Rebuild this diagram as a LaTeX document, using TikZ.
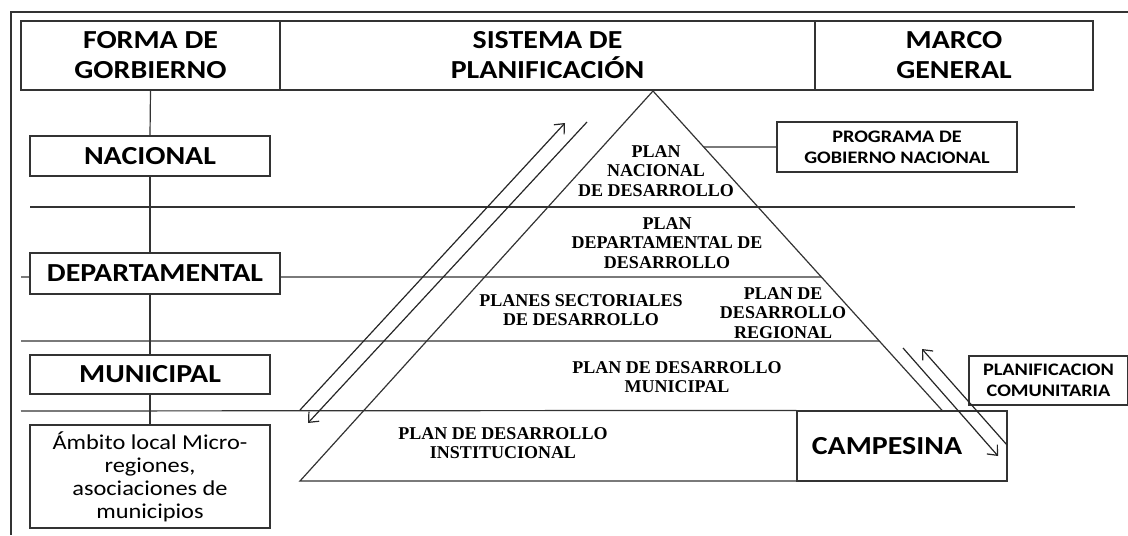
\documentclass[tikz,border=0pt]{standalone}
\usepackage{fontspec}
\setmainfont{Liberation Serif}
\setsansfont{Carlito}[FakeStretch=1.15]
\usetikzlibrary{arrows.meta, calc, positioning}

\tikzset{
  sep/.style={black!80, line width=0.6pt},
  hdbox/.style={draw=black!80, line width=0.6pt, fill=white, align=center, inner sep=0pt,
    font=\sffamily\bfseries\fontsize{13}{15}\selectfont},
  lvlbox/.style={hdbox},
  smallbox/.style={draw=black!80, line width=0.6pt, fill=white, align=center, inner sep=0pt,
    font=\sffamily\bfseries\fontsize{8.8}{10.3}\selectfont},
  plantext/.style={align=center, font=\bfseries\fontsize{9}{9.8}\selectfont},
  flow/.style={black!85, line width=0.6pt, -{Straight Barb[length=4pt,width=7pt]}},
}

\begin{document}
\begin{tikzpicture}[x=0.5pt, y=-0.5pt]
\useasboundingbox (0,0) rectangle (1128,535);

% outer frame
\draw[sep] (1128,12) -- (11,12) -- (11,535);

% headers
\node[hdbox, minimum width=129.5pt, minimum height=34.5pt] (forma) at (150.5,55.5) {FORMA DE\\GORBIERNO};
\node[hdbox, minimum width=267.5pt, minimum height=34.5pt] (sistema) at (547.5,55.5) {SISTEMA DE\\PLANIFICACIÓN};
\node[hdbox, minimum width=139pt, minimum height=34.5pt] (marco) at (954,55.5) {MARCO\\GENERAL};

% levels of government
\node[lvlbox, minimum width=120pt, minimum height=20pt] (nacional) at (150,156) {NACIONAL};
\node[lvlbox, minimum width=125pt, minimum height=20.5pt] (depto) at (155,273.5) {DEPARTAMENTAL};
\node[lvlbox, minimum width=120pt, minimum height=19.5pt] (municipal) at (150,374.5) {MUNICIPAL};
\node[draw=black!80, line width=0.6pt, fill=white, align=center, inner sep=0pt,
  font=\sffamily\fontsize{10.6}{11.5}\selectfont, minimum width=120pt, minimum height=51.5pt]
  (ambito) at (150,476.5) {Ámbito local Micro-\\regiones,\\asociaciones de\\municipios};

\draw[sep] (forma.south) -- (nacional.north);
\draw[sep] (nacional.south) -- (nacional.south |- depto.north);
\draw[sep] (nacional.south |- depto.south) -- (municipal.north);
\draw[sep] (municipal.south) -- (ambito.north);

% pyramid
\coordinate (apex) at (653,91);
\coordinate (bl) at (300,481);
\coordinate (br) at (1006,481);
\draw[sep] (bl) -- (apex) -- (br) -- cycle;

\node[hdbox, minimum width=105pt, minimum height=35pt] (campesina) at (902,446) {CAMPESINA\hspace*{15pt}};

% level separators
\coordinate (lv2) at (21,277);
\draw[sep] (30,207) -- (1075,207);
\draw[sep] (lv2) -- (lv2 -| depto.west) (lv2 -| depto.east) -- ($(apex)!0.4769!(br)$);
\draw[sep] (21,341) -- ($(apex)!0.641!(br)$);
\draw[sep] (21,411) -- (campesina.north west);

% side boxes
\node[smallbox, minimum width=120pt, minimum height=25pt] (programa) at (897,147) {PROGRAMA DE\\GOBIERNO NACIONAL};
\draw[sep] ($(apex)!0.1436!(br)$) -- (programa.west);
\node[smallbox, minimum width=79.5pt, minimum height=24.5pt] (comunitaria) at (1048.5,380.5) {PLANIFICACION\\COMUNITARIA};

% plans
\node[plantext] (pnd) at (656,171) {PLAN\\NACIONAL\\DE DESARROLLO};
\node[plantext] (pdd) at (667,243) {PLAN\\DEPARTAMENTAL DE\\DESARROLLO};
\node[plantext] (psd) at (581,310) {PLANES SECTORIALES\\DE DESARROLLO};
\node[plantext] (pdr) at (783,313) {PLAN DE\\DESARROLLO\\REGIONAL};
\node[plantext] (pdm) at (677,377) {PLAN DE DESARROLLO\\MUNICIPAL};
\node[plantext] (pdi) at (503,443) {PLAN DE DESARROLLO\\INSTITUCIONAL};

% flows
\coordinate (upL0) at (300,410);
\coordinate (upL1) at (565,123);
\coordinate (dnL0) at (587,122);
\coordinate (dnL1) at (308,423);
\coordinate (dnR0) at (903,348);
\coordinate (dnR1) at (998,456);
\coordinate (upR0) at (1007,445);
\coordinate (upR1) at (922,349);
\draw[flow] (upL0) -- (upL1);
\draw[flow] (dnL0) -- (dnL1);
\draw[flow] (dnR0) -- (dnR1);
\draw[flow] (upR0) -- (upR1);
\end{tikzpicture}
\end{document}
